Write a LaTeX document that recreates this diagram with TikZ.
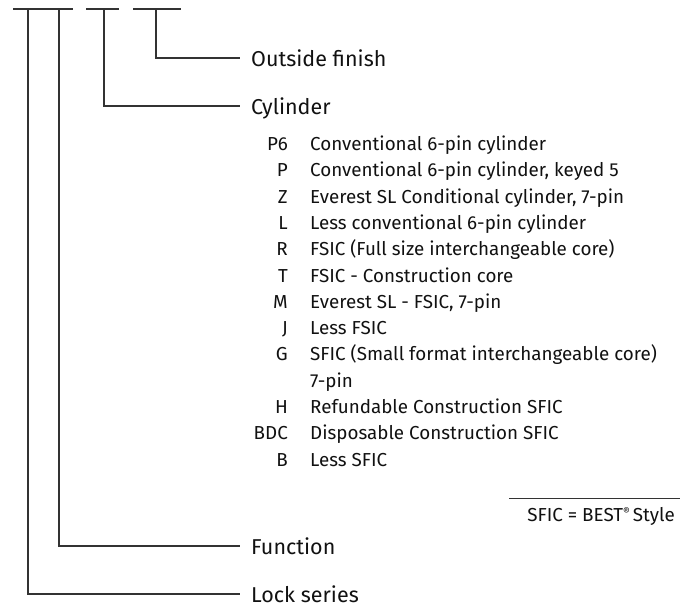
\documentclass[tikz,border=0pt]{standalone}
\usepackage{fontspec}
\setmainfont{Fira Sans}
\definecolor{ink}{HTML}{111111}
\definecolor{rule}{HTML}{333333}
\begin{document}
\begin{tikzpicture}[x=1pt,y=-1pt,
  conn/.style={draw=rule,line width=1.2pt},
  lbl/.style={anchor=base west,inner sep=0pt,text=ink,font=\fontsize{21.5}{24}\selectfont},
  code/.style={anchor=base east,inner sep=0pt,text=ink,font=\fontsize{18.8}{22}\selectfont},
  desc/.style={anchor=base west,inner sep=0pt,text=ink,font=\fontsize{18.8}{22}\selectfont}]
\useasboundingbox (0,0) rectangle (684,608);
% top segments
\coordinate (s1a) at (13,9); \coordinate (s1b) at (73,9);
\coordinate (s2a) at (86,9); \coordinate (s2b) at (119,9);
\coordinate (s3a) at (133,9); \coordinate (s3b) at (181,9);
\draw[conn] (s1a) -- (s1b);
\draw[conn] (s2a) -- (s2b);
\draw[conn] (s3a) -- (s3b);
% labels
\node[lbl] (fin) at (251,66) {Outside finish};
\node[lbl] (cyl) at (251,114) {Cylinder};
\node[lbl] (fun) at (251,554) {Function};
\node[lbl] (ser) at (251,602) {Lock series};
\coordinate (e1) at (240,58); \coordinate (e2) at (240,106);
\coordinate (e3) at (240,546); \coordinate (e4) at (240,594);
\coordinate (t1) at (156,9); \coordinate (t2) at (104,9);
\coordinate (t3) at (59,9); \coordinate (t4) at (28,9);
\draw[conn] (t1) |- (e1);
\draw[conn] (t2) |- (e2);
\draw[conn] (t3) |- (e3);
\draw[conn] (t4) |- (e4);
% list
\foreach \c/\d [count=\i from 0] in {P6/Conventional 6-pin cylinder,
  P/{Conventional 6-pin cylinder, keyed 5},
  Z/{Everest SL Conditional cylinder, 7-pin},
  L/Less conventional 6-pin cylinder,
  R/FSIC (Full size interchangeable core),
  T/FSIC - Construction core,
  M/{Everest SL - FSIC, 7-pin},
  J/Less FSIC,
  G/SFIC (Small format interchangeable core),
  /7-pin,
  H/Refundable Construction SFIC,
  BDC/Disposable Construction SFIC,
  B/Less SFIC}{
  \node[code] (c\i) at (288,{150.5+26.3*\i}) {\c};
  \node[desc] (d\i) at (310,{150.5+26.3*\i}) {\d};
}
\coordinate (r1) at (509,498); \coordinate (r2) at (680,498);
\draw[draw=rule,line width=1pt] (r1) -- (r2);
\node[code] (note) at (675,521) {SFIC = BEST\raisebox{5.5pt}{\fontsize{10.5}{10.5}\selectfont ®}\,Style};
\end{tikzpicture}
\end{document}
